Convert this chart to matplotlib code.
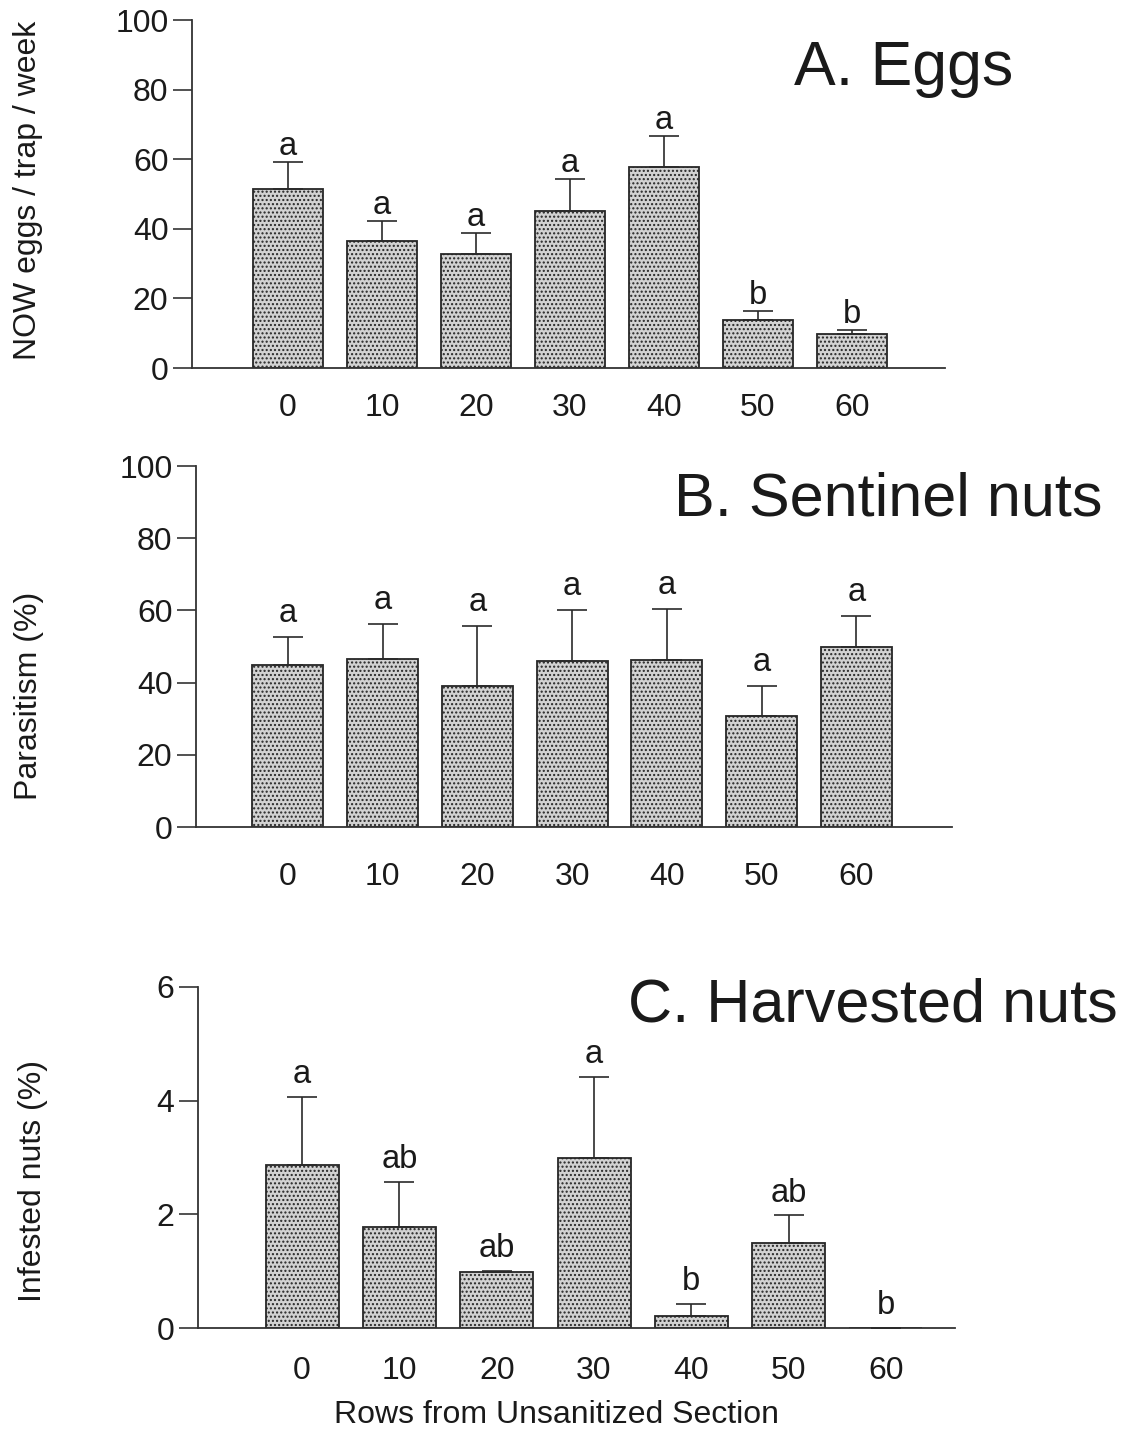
import matplotlib
matplotlib.use('Agg')
import matplotlib.pyplot as plt
import numpy as np

plt.rcParams['font.family'] = ['Liberation Sans', 'DejaVu Sans']
plt.rcParams['hatch.linewidth'] = 1.0

rows = ['0', '10', '20', '30', '40', '50', '60']

# A. eggs per trap per week
eggs_mean = [51.4, 36.6, 32.9, 45.2, 57.8, 13.9, 9.9]
eggs_se = [7.9, 5.5, 5.9, 9.0, 8.8, 2.5, 0.9]
eggs_letters = ['a', 'a', 'a', 'a', 'a', 'b', 'b']

# B. parasitism of sentinel nuts (%)
sent_mean = [44.9, 46.5, 39.0, 46.0, 46.3, 30.7, 49.8]
sent_se = [7.7, 9.7, 16.7, 14.1, 14.1, 8.3, 8.6]
sent_letters = ['a', 'a', 'a', 'a', 'a', 'a', 'a']

# C. infested harvested nuts (%)
harv_mean = [2.86, 1.78, 0.99, 2.99, 0.21, 1.50, 0.0]
harv_se = [1.20, 0.79, 0.01, 1.42, 0.21, 0.48, 0.0]
harv_letters = ['a', 'ab', 'ab', 'a', 'b', 'ab', 'b']

W, H = 1130, 1431
fig = plt.figure(figsize=(W / 100, H / 100), dpi=100)

ink = '#1a1a1a'


def px_axes(left, top, right, bottom):
    return fig.add_axes([left / W, 1 - bottom / H, (right - left) / W, (bottom - top) / H])


def panel(ax, mean, se, letters, ymax, ystep, xlim, width, let_off, xpad):
    x = np.arange(len(mean))
    ax.bar(x, mean, width=width, facecolor='#d2d2d2', edgecolor='#262626',
           hatch='....', linewidth=1.3, zorder=2)
    ax.errorbar(x, mean, yerr=[np.zeros(len(se)), se], fmt='none',
                ecolor='#2a2a2a', elinewidth=1.2, capsize=11, capthick=1.2, zorder=3)
    for xi, m, s, lab in zip(x, mean, se, letters):
        ax.annotate(lab, (xi, m + s), xytext=(0, let_off), textcoords='offset points',
                    ha='center', va='bottom', fontsize=23.5, color=ink)
    ax.set_xlim(*xlim)
    ax.set_ylim(0, ymax)
    ax.set_yticks(np.arange(0, ymax + ystep / 2, ystep))
    ax.set_xticks(x)
    ax.set_xticklabels(rows)
    for s in ['top', 'right']:
        ax.spines[s].set_visible(False)
    for s in ['left', 'bottom']:
        ax.spines[s].set_color('#333333')
        ax.spines[s].set_linewidth(1.3)
    ax.tick_params(axis='y', length=14, width=1.2, color='#333333', pad=3,
                   labelsize=23, labelcolor=ink)
    ax.tick_params(axis='x', length=0, pad=xpad, labelsize=23, labelcolor=ink)
    ax.set_facecolor('none')


axA = px_axes(192, 20, 945, 368)
panel(axA, eggs_mean, eggs_se, eggs_letters, 100, 20, (-1.02, 6.99), 0.745, 0, 18)

axB = px_axes(196, 466, 952, 827)
panel(axB, sent_mean, sent_se, sent_letters, 100, 20, (-0.97, 7.01), 0.75, 6, 25)

axC = px_axes(198, 987, 955, 1328)
panel(axC, harv_mean, harv_se, harv_letters, 6, 2, (-1.07, 6.71), 0.75, 5, 20)

fig.text(1013 / W, 1 - 85 / H, 'A. Eggs', ha='right', va='baseline', fontsize=45, color=ink)
fig.text(1103 / W, 1 - 515 / H, 'B. Sentinel nuts', ha='right', va='baseline', fontsize=44, color=ink)
fig.text(1118 / W, 1 - 1021 / H, 'C. Harvested nuts', ha='right', va='baseline', fontsize=44, color=ink)

fig.text(28 / W, 1 - 190 / H, 'NOW eggs / trap / week', rotation=90, ha='center', va='center',
         fontsize=23, color=ink)
fig.text(29 / W, 1 - 696 / H, 'Parasitism (%)', rotation=90, ha='center', va='center',
         fontsize=23, color=ink)
fig.text(33 / W, 1 - 1181 / H, 'Infested nuts (%)', rotation=90, ha='center', va='center',
         fontsize=23, color=ink)
fig.text(556 / W, 1 - 1415 / H, 'Rows from Unsanitized Section', ha='center', va='center',
         fontsize=23, color=ink)

fig.savefig('out.png', dpi=100)
